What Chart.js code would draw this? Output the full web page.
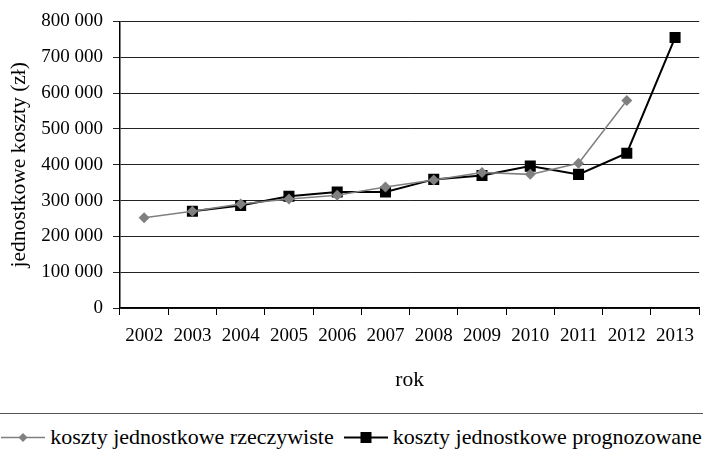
<!DOCTYPE html>
<html>
<head>
<meta charset="utf-8">
<script src="https://cdn.jsdelivr.net/npm/chart.js@4"></script>
<style>
  html, body { margin: 0; padding: 0; width: 703px; height: 449px; overflow: hidden; background: #fff; }
  #wrap { position: absolute; left: 0; top: 0; width: 707px; height: 400px; }
  #sep { position: absolute; left: 0; top: 413px; width: 703px; height: 0; border-top: 1.5px solid #555; }
  #legend { position: absolute; left: 0; top: 423px; width: 703px; height: 28px; display: flex; justify-content: center; align-items: center;
            font-family: 'Liberation Serif', serif; font-size: 22px; color: #000; white-space: nowrap; }
  .item { display: flex; align-items: center; margin: 0 5px; }
  .item svg { margin-right: 5px; }
</style>
</head>
<body>
<div id="wrap"><canvas id="c" width="707" height="400"></canvas></div>
<div id="sep"></div>
<div id="legend"></div>
<script>
const years = ['2002','2003','2004','2005','2006','2007','2008','2009','2010','2011','2012','2013'];
const actualCosts = [252000, 270000, 290000, 304000, 315000, 338000, 357000, 378000, 373000, 404000, 579000, null];
const forecastCosts = [null, 270000, 286000, 312000, 324000, 324000, 359000, 370000, 396000, 373000, 432000, 755000];
const yTicks = [0, 100000, 200000, 300000, 400000, 500000, 600000, 700000, 800000];
const seriesNames = ['koszty jednostkowe rzeczywiste', 'koszty jednostkowe prognozowane'];
const axisTitles = { x: 'rok', y: 'jednostkowe koszty (zł)' };

const FONT = { family: 'Liberation Serif', size: 19 };
const TITLE_FONT = { family: 'Liberation Serif', size: 21.5 };
const fmt = v => v === 0 ? '0' : String(v).replace(/\B(?=(\d{3})+(?!\d))/g, ' ');

const datasets = [
  { label: seriesNames[0], data: actualCosts, borderColor: '#808080', backgroundColor: '#808080',
    borderWidth: 1.5, pointStyle: 'rectRot', pointRadius: 5.5, pointBorderWidth: 0, tension: 0, spanGaps: false },
  { label: seriesNames[1], data: forecastCosts, borderColor: '#000', backgroundColor: '#000',
    borderWidth: 2, pointStyle: 'rect', pointRadius: 7.8, pointBorderWidth: 0, tension: 0, spanGaps: false }
];

new Chart(document.getElementById('c'), {
  type: 'line',
  data: { labels: years, datasets },
  options: {
    responsive: false,
    animation: false,
    layout: { padding: { left: 0, right: 0, top: 17, bottom: 0 } },
    plugins: { legend: { display: false }, tooltip: { enabled: false } },
    scales: {
      x: {
        type: 'category',
        offset: true,
        grid: { offset: true, drawOnChartArea: false, drawTicks: true, tickLength: 7, color: '#000', lineWidth: 1 },
        border: { display: true, color: '#000', width: 1.5 },
        ticks: { font: FONT, color: '#000', padding: 10, maxRotation: 0, autoSkip: false },
        title: { display: true, text: axisTitles.x, font: TITLE_FONT, color: '#000', padding: { top: 0, bottom: 7 } },
        afterFit: s => { s.height = 92; }
      },
      y: {
        min: 0, max: 800000,
        afterBuildTicks: s => { s.ticks = yTicks.map(v => ({ value: v })); },
        grid: { drawOnChartArea: true, drawTicks: true, tickLength: 7, color: '#222', lineWidth: 1 },
        border: { display: true, color: '#000', width: 1.5 },
        ticks: { font: FONT, color: '#000', padding: 10, callback: v => fmt(v) },
        title: { display: true, text: axisTitles.y, font: TITLE_FONT, color: '#000', padding: { top: 6, bottom: 0 } },
        afterFit: s => { s.width = 120; }
      }
    }
  }
});

const leg = document.getElementById('legend');
datasets.forEach(ds => {
  const item = document.createElement('div');
  item.className = 'item';
  const marker = ds.pointStyle === 'rect'
    ? '<rect x="16.5" y="6" width="11" height="11" fill="' + ds.borderColor + '"/>'
    : '<polygon points="22,7 26.5,11.5 22,16 17.5,11.5" fill="' + ds.borderColor + '"/>';
  item.innerHTML = '<svg width="44" height="23"><line x1="0" y1="11.5" x2="44" y2="11.5" stroke="' + ds.borderColor +
    '" stroke-width="' + ds.borderWidth + '"/>' + marker + '</svg><span>' + ds.label + '</span>';
  leg.appendChild(item);
});
</script>
</body>
</html>
